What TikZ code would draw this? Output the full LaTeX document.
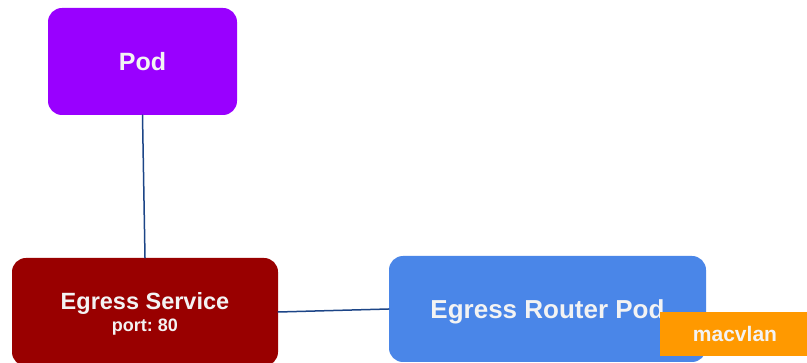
\documentclass[tikz,border=0pt]{standalone}
\usepackage{fontspec}
\setmainfont{Liberation Sans}
\definecolor{podpurple}{HTML}{9900FF}
\definecolor{svcred}{HTML}{990000}
\definecolor{routerblue}{HTML}{4A86E8}
\definecolor{macorange}{HTML}{FF9900}
\definecolor{linkblue}{HTML}{1C4587}
\definecolor{boxtext}{HTML}{F3F3F3}
\begin{document}
\begin{tikzpicture}[x=1pt, y=-1pt, line join=round, line cap=round,
    box/.style={rounded corners=14pt, inner sep=0pt, text=boxtext, font=\bfseries, align=center},
    link/.style={draw=linkblue, line width=1.5pt}]
    \useasboundingbox[fill=white] (0,0) rectangle (807,363);
    \node[box, fill=podpurple, minimum width=189pt, minimum height=107pt] (pod) at (142.5,61.5) {\fontsize{25}{30}\selectfont Pod};
    \node[box, fill=svcred, minimum width=266pt, minimum height=108pt, text depth=0pt] (service) at (145,312) {\fontsize{23.5}{22}\selectfont Egress Service\\[3pt]\fontsize{18}{22}\selectfont port:~80};
    \node[box, fill=routerblue, minimum width=317pt, minimum height=106pt, text depth=0pt] (router) at (547.5,309) {\fontsize{26}{30}\selectfont Egress Router Pod};
    \node[inner sep=0pt, fill=macorange, text=boxtext, font=\bfseries, minimum width=150pt, minimum height=44pt] (macvlan) at (735,334) {\fontsize{21}{25}\selectfont macvlan};
    \draw[link] (pod.south) -- (service.north);
    \draw[link] (service.east) -- (router.west);
\end{tikzpicture}
\end{document}
